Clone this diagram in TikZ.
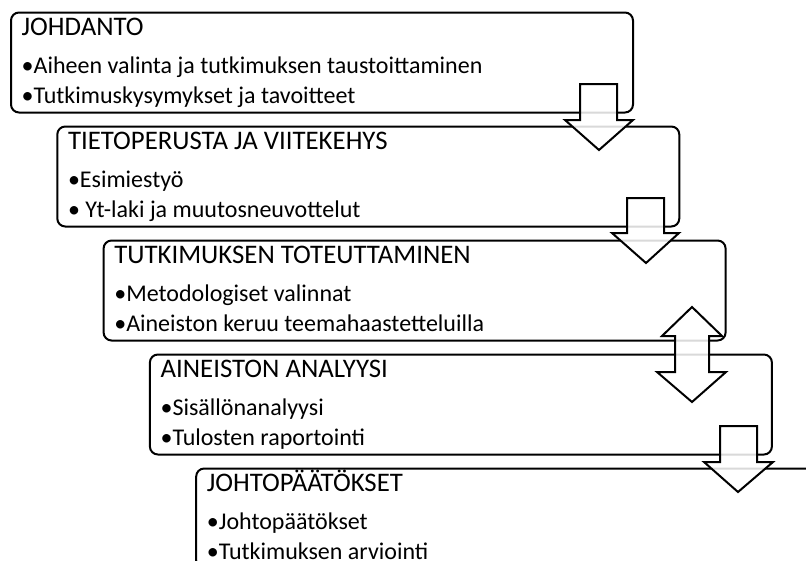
\documentclass[tikz,border=0pt]{standalone}
\usepackage{fontspec}
\setmainfont{Carlito}
\begin{document}
\begin{tikzpicture}[x=1pt,y=-1pt,
  stagebox/.style={draw=black, line width=2pt, rounded corners=8pt, fill=white,
    minimum width=622pt, minimum height=100pt, inner sep=0pt, anchor=north west},
  titletext/.style={anchor=base west, inner sep=0pt, font=\fontsize{26.8}{30}\selectfont},
  itemtext/.style={anchor=base west, inner sep=0pt, font=\fontsize{24}{28}\selectfont},
  flowarrow/.style={draw=black, line width=2pt, fill=white, fill opacity=0.85, line join=miter}]
\useasboundingbox (0,0) rectangle (806,560);
\clip (0,0) rectangle (806,560);
% boxes
\node[stagebox] (b1) at (10,11.5) {};
\node[stagebox] (b2) at (56.3,125.5) {};
\node[stagebox] (b3) at (102.6,239.5) {};
\node[stagebox] (b4) at (148.9,353.5) {};
\node[stagebox] (b5) at (195.2,467.5) {};
% texts
\node[titletext] (t1) at ([xshift=11.5pt,yshift=-24pt]b1.north west) {JOHDANTO};
\node[itemtext] (t1a) at ([xshift=11.5pt,yshift=-61.5pt]b1.north west) {•Aiheen valinta ja tutkimuksen taustoittaminen};
\node[itemtext] (t1b) at ([xshift=11.5pt,yshift=-92pt]b1.north west) {•Tutkimuskysymykset ja tavoitteet};
\node[titletext] (t2) at ([xshift=11.5pt,yshift=-24pt]b2.north west) {TIETOPERUSTA JA VIITEKEHYS};
\node[itemtext] (t2a) at ([xshift=11.5pt,yshift=-61.5pt]b2.north west) {•Esimiestyö};
\node[itemtext] (t2b) at ([xshift=11.5pt,yshift=-92pt]b2.north west) {• Yt-laki ja muutosneuvottelut};
\node[titletext] (t3) at ([xshift=11.5pt,yshift=-24pt]b3.north west) {TUTKIMUKSEN TOTEUTTAMINEN};
\node[itemtext] (t3a) at ([xshift=11.5pt,yshift=-61.5pt]b3.north west) {•Metodologiset valinnat};
\node[itemtext] (t3b) at ([xshift=11.5pt,yshift=-92pt]b3.north west) {•Aineiston keruu teemahaastetteluilla};
\node[titletext] (t4) at ([xshift=11.5pt,yshift=-24pt]b4.north west) {AINEISTON ANALYYSI};
\node[itemtext] (t4a) at ([xshift=11.5pt,yshift=-61.5pt]b4.north west) {•Sisällönanalyysi};
\node[itemtext] (t4b) at ([xshift=11.5pt,yshift=-92pt]b4.north west) {•Tulosten raportointi};
\node[titletext] (t5) at ([xshift=11.5pt,yshift=-24pt]b5.north west) {JOHTOPÄÄTÖKSET};
\node[itemtext] (t5a) at ([xshift=11.5pt,yshift=-61.5pt]b5.north west) {•Johtopäätökset};
\node[itemtext] (t5b) at ([xshift=11.5pt,yshift=-92pt]b5.north west) {•Tutkimuksen arviointi};
% arrows
\draw[flowarrow] (580,84) -- (617,84) -- (617,120) -- (633,120) -- (599,150) -- (565,120) -- (580,120) -- cycle;
\draw[flowarrow] (627,198) -- (664,198) -- (664,233) -- (679,233) -- (646,263) -- (612,233) -- (627,233) -- cycle;
\draw[flowarrow] (692,307) -- (722,336) -- (709,336) -- (709,372) -- (726,372) -- (692,402) -- (657,372) -- (675,372) -- (675,336) -- (662,336) -- cycle;
\draw[flowarrow] (720,426) -- (757,426) -- (757,462) -- (773,462) -- (738,492) -- (704,462) -- (720,462) -- cycle;
\end{tikzpicture}
\end{document}
